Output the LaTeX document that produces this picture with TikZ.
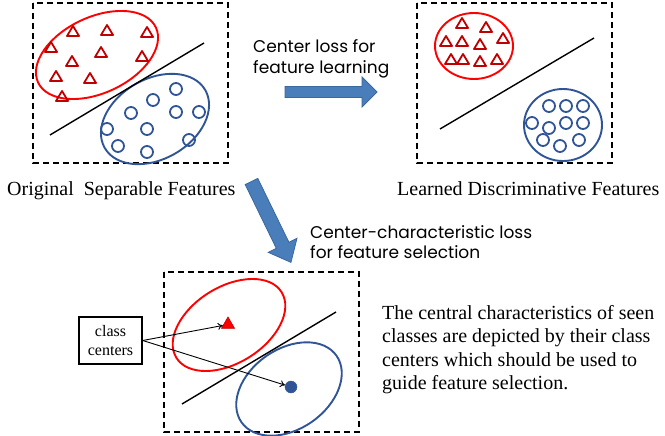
\documentclass[tikz,border=0pt]{standalone}
\usepackage{fontspec}
\setmainfont{Liberation Serif}
\newfontfamily\comic{Poppins}
\usetikzlibrary{shapes.geometric,arrows.meta}
\definecolor{redE}{HTML}{FF0000}
\definecolor{redT}{HTML}{C00000}
\definecolor{blueE}{HTML}{2F5597}
\definecolor{arrFill}{HTML}{4A7EBB}
\definecolor{arrDraw}{HTML}{3A679E}
\begin{document}
\begin{tikzpicture}[x=1pt,y=-1pt,
  dbox/.style={draw=black,line width=1.4pt,dash pattern=on 6pt off 4pt},
  redell/.style={draw=redE,line width=1.9pt},
  blueell/.style={draw=blueE,line width=1.9pt},
  redtri/.style={draw=redT,line width=1.8pt,line join=round},
  bluecirc/.style={draw=blueE,line width=1.8pt},
  sepline/.style={draw=black,line width=1.4pt},
  bigarrow/.style={fill=arrFill,draw=arrDraw,line width=0.8pt},
  comictxt/.style={font=\comic\fontsize{17}{21}\selectfont,anchor=base west,inner sep=0pt},
  serif/.style={font=\fontsize{20}{23}\selectfont,anchor=base west,inner sep=0pt},
  ptr/.style={draw=black,line width=0.9pt,-{To[length=5pt,width=7pt]}}
]
\useasboundingbox (0,0) rectangle (665,436);

% ---------- Box 1: original features ----------
\draw[dbox] (33,3) rectangle (228,163);
\draw[redell,rotate around={25:(97,55)}] (97,55) ellipse [x radius=65,y radius=38];
\draw[blueell,rotate around={30:(155,119)}] (155,119) ellipse [x radius=58,y radius=40];
\draw[sepline] (50,135) -- (204,43);
\foreach \x/\y in {73/32,107/31,147/33,51/48,101/53,142/57,72/62,56/77,90/79,62/97}
  \draw[redtri] (\x,\y) +(-6,4) -- +(6,4) -- +(0,-6) -- cycle;
\foreach \x/\y in {176/89,153/100,131/113,176/112,199/112,107/129,147/129,189/140,118/146,147/152}
  \draw[bluecirc] (\x,\y) circle [radius=6];

% ---------- Box 2: learned features ----------
\draw[dbox] (417,3) rectangle (612,163);
\draw[redell] (474,46) ellipse [x radius=39,y radius=33];
\draw[blueell] (563,125) ellipse [x radius=39,y radius=36];
\draw[sepline] (440,129) -- (594,38);
\foreach \x/\y in {462/24,486/28,446/42,462/42,480/45,503/39,451/60,463/60,480/62,497/60}
  \draw[redtri] (\x,\y) +(-6,4) -- +(6,4) -- +(0,-6) -- cycle;
\foreach \x/\y in {549/106,566/106,583/106,532/123,566/123,583/123,549/128,543/140,560/146,579/140}
  \draw[bluecirc] (\x,\y) circle [radius=6];

% ---------- Box 3: class centers ----------
\draw[dbox] (164,272) rectangle (359,432);
\draw[redell,rotate around={32:(229,325)}] (229,325) ellipse [x radius=62,y radius=38];
\draw[blueell,rotate around={35:(289,389)}] (289,389) ellipse [x radius=58,y radius=40];
\draw[sepline] (182,404) -- (336,312);
\node[regular polygon,regular polygon sides=3,minimum size=15pt,inner sep=0pt,
      fill=redE,draw=redT,line width=0.6pt] (tri) at (228,324.5) {};
\node[circle,minimum size=12pt,inner sep=0pt,fill=blueE,draw=blueE] (dot) at (291,387) {};
\node[draw=black,line width=1.5pt,minimum width=63pt,minimum height=47pt,inner sep=0pt,
      align=center,font=\fontsize{16}{19}\selectfont] (cc) at (110.5,340.5) {class\\centers};
\draw[ptr] (cc.east) -- (tri);
\draw[ptr] (cc.east) -- (dot);

% ---------- big arrows ----------
\draw[bigarrow] (285,86.5) -- (362,86.5) -- (362,77) -- (377,92) -- (362,107) -- (362,97.5) -- (285,97.5) -- cycle;
\begin{scope}[shift={(251.5,181.5)},rotate=-64]
  \draw[bigarrow] (0,-7) -- (71,-7) -- (71,-16) -- (90,0) -- (71,16) -- (71,7) -- (0,7) -- cycle;
\end{scope}

% ---------- texts ----------
\node[comictxt] (t1) at (253,53) {Center loss for};
\node[comictxt] (t2) at (253,74) {feature learning};
\node[comictxt] (t3) at (310,238) {Center-characteristic loss};
\node[comictxt] (t4) at (310,258) {for feature selection};
\node[serif] (lo) at (7,195) {Original\ \ Separable Features};
\node[serif] (ll) at (397,195) {Learned Discriminative Features};
\node[serif] (p1) at (382,319.3) {The central characteristics of seen};
\node[serif] (p2) at (382,342.7) {classes are depicted by their class};
\node[serif] (p3) at (382,366) {centers which should be used to};
\node[serif] (p4) at (382,389.3) {guide feature selection.};
\end{tikzpicture}
\end{document}
